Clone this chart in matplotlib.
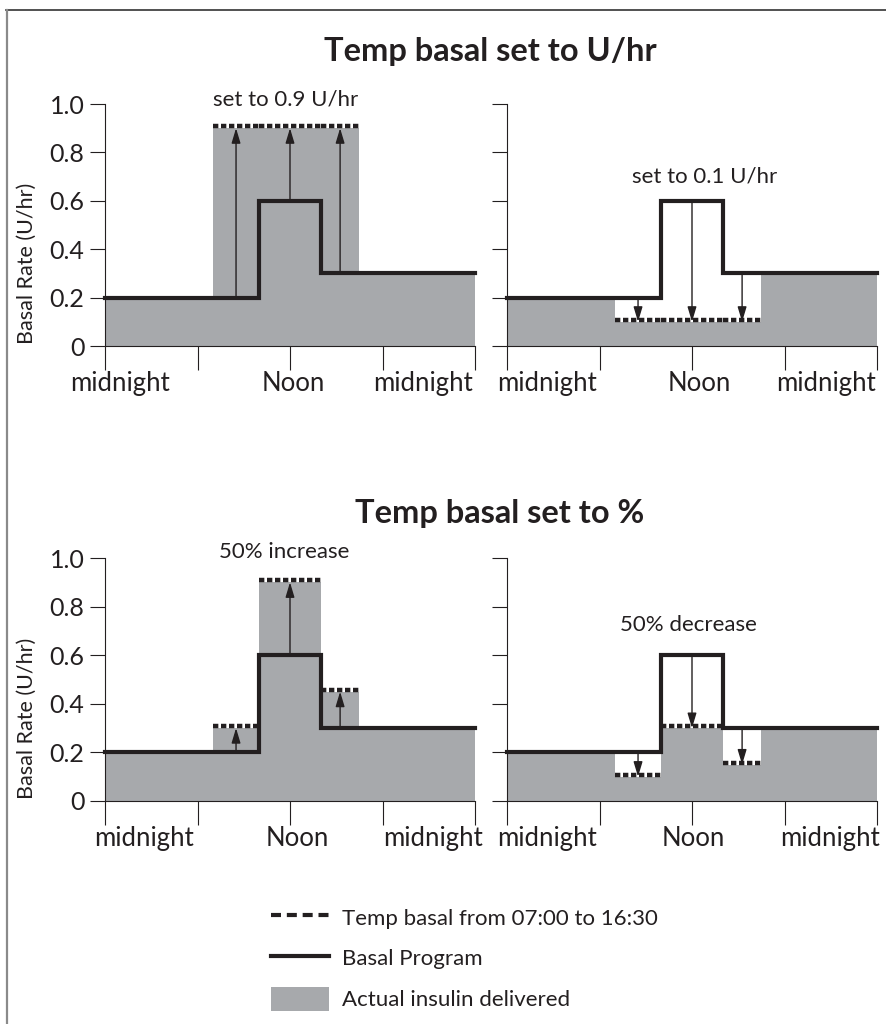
import numpy as np
import matplotlib
matplotlib.use("Agg")
import matplotlib.pyplot as plt
import matplotlib.transforms as mtransforms
from matplotlib.lines import Line2D
from matplotlib.patches import Patch

plt.rcParams['font.family'] = ['Lato', 'DejaVu Sans']

INK = '#231f20'
GRAY = '#a7a9ac'

# step boundaries (hours) and rates (U/hr), value holds until next boundary
hours = [0, 7, 10, 14, 16.5, 24]
basal = [0.2, 0.2, 0.6, 0.3, 0.3, 0.3]
temp_fixed_up = [0.9, 0.9, 0.9]        # 07:00-10:00, 10:00-14:00, 14:00-16:30
temp_fixed_down = [0.1, 0.1, 0.1]
temp_pct_up = [0.3, 0.9, 0.45]
temp_pct_down = [0.1, 0.3, 0.15]
arrow_hours = [8.5, 12, 15.25]

yticks = [0, 0.2, 0.4, 0.6, 0.8, 1.0]
ytick_labels = ['0', '0.2', '0.4', '0.6', '0.8', '1.0']
xticks = [0, 6, 12, 18, 24]
xlabels = ['midnight', 'Noon', 'midnight']

titles = ['Temp basal set to U/hr', 'Temp basal set to %']
notes = ['set to 0.9 U/hr', 'set to 0.1 U/hr', '50% increase', '50% decrease']
note_pos = [(11.74, 1.02), (12.84, 0.70), (11.6, 1.025), (11.8, 0.725)]
# label centres along x (axes fraction) per panel
xlabel_pos = [(0.04, 0.51, 0.86), (0.108, 0.519, 0.862),
              (0.105, 0.519, 0.886), (0.108, 0.503, 0.873)]
temps = [temp_fixed_up, temp_fixed_down, temp_pct_up, temp_pct_down]

fig = plt.figure(figsize=(8.86, 10.24), dpi=100)
W, H = 886, 1024
boxes = [(105, 104, 370, 242), (507, 104, 370, 242),
         (105, 558, 370, 243), (507, 558, 370, 243)]

for k, (x0, y0, w, h) in enumerate(boxes):
    ax = fig.add_axes([x0 / W, 1 - (y0 + h) / H, w / W, h / H])
    t = temps[k]
    delivered = [basal[0]] + t + [basal[4], basal[5]]
    ax.fill_between(hours, 0, delivered, step='post', color=GRAY, lw=0)
    ax.step(hours, basal, where='post', color=INK, lw=3, clip_on=False,
            solid_joinstyle='miter', zorder=4)
    # dotted temp basal segments, sitting on top of the fill
    up = mtransforms.offset_copy(ax.transData, fig=fig, x=0, y=2, units='dots')
    for i in range(3):
        ax.plot([hours[i + 1], hours[i + 2]], [t[i], t[i]], color=INK, lw=3.2,
                linestyle=(0, (1.2, 0.6)), transform=up, zorder=5)
    for hr in arrow_hours:
        i = np.searchsorted(hours, hr, side='right') - 1
        ax.annotate('', xy=(hr, t[i - 1]), xytext=(hr, basal[i]),
                    arrowprops=dict(arrowstyle='-|>,head_length=0.6,head_width=0.18',
                                    color=INK, lw=1, shrinkA=0, shrinkB=0,
                                    mutation_scale=15), zorder=6)

    ax.set_xlim(0, 24)
    ax.set_ylim(0, 1.0)
    for s in ['top', 'right']:
        ax.spines[s].set_visible(False)
    for s in ['left', 'bottom']:
        ax.spines[s].set_linewidth(0.8)
        ax.spines[s].set_color(INK)
    ax.set_xticks(xticks)
    ax.set_xticklabels([])
    ax.tick_params(axis='x', length=17, width=0.8, color=INK)
    ax.set_yticks(yticks)
    ax.tick_params(axis='y', length=10.8, width=0.8, color=INK, pad=4)
    if k % 2 == 0:
        ax.set_yticklabels(ytick_labels, fontsize=18, color=INK)
        ax.set_ylabel('Basal Rate (U/hr)', fontsize=15.5, color=INK)
        ax.yaxis.set_label_coords(-0.185, 0.34)
    else:
        ax.set_yticklabels([])
    for xp, lab in zip(xlabel_pos[k], xlabels):
        ax.text(xp, -0.153, lab, transform=ax.transAxes, ha='center',
                va='center', fontsize=18.5, color=INK)
    ax.text(note_pos[k][0], note_pos[k][1], notes[k], ha='center',
            va='center', fontsize=16, color=INK)

fig.text(490 / W, 1 - 52 / H, titles[0], ha='center', va='center',
         fontsize=23.5, fontweight='bold', color=INK)
fig.text(500 / W, 1 - 513 / H, titles[1], ha='center', va='center',
         fontsize=23.5, fontweight='bold', color=INK)

handles = [Line2D([], [], color=INK, lw=3, linestyle=(0, (2.4, 1.4))),
           Line2D([], [], color=INK, lw=3),
           Patch(facecolor=GRAY, edgecolor='none')]
leg_labels = ['Temp basal from 07:00 to 16:30', 'Basal Program',
              'Actual insulin delivered']
fig.legend(handles, leg_labels, loc='upper left',
           bbox_to_anchor=(271 / W, 1 - 905 / H), frameon=False,
           fontsize=16, handlelength=2.6, handleheight=1.3,
           handletextpad=0.6, labelspacing=0.75, borderpad=0,
           borderaxespad=0, labelcolor=INK)

# page border (top and left edges)
fig.add_artist(Line2D([6 / W, 1], [1 - 9.5 / H] * 2, color='#333333', lw=1.2,
                      transform=fig.transFigure))
fig.add_artist(Line2D([6.5 / W] * 2, [0, 1 - 9.5 / H], color='#8a8a8a', lw=1.6,
                      transform=fig.transFigure))

fig.savefig('out.png', dpi=100)
